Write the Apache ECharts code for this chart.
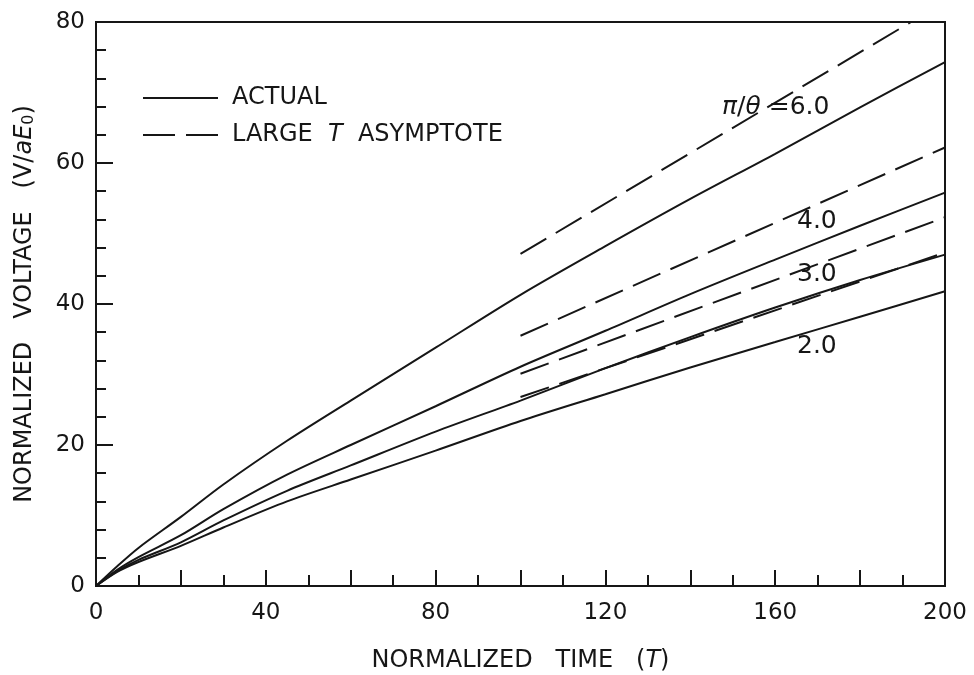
<!DOCTYPE html>
<html>
<head>
<meta charset="utf-8">
<script src="https://cdn.jsdelivr.net/npm/echarts@6/dist/echarts.min.js"></script>
<style>
html,body{margin:0;padding:0;background:#fff;}
#chart{width:974px;height:675px;}
</style>
</head>
<body>
<div id="chart"></div>
<script>
// Normalized time values
var timeValues = [0, 5, 10, 20, 30, 45, 60, 80, 100, 120, 140, 160, 180, 200];
// Actual curves (normalized voltage)
var actual60 = [0, 2.8, 5.4, 9.8, 14.4, 20.6, 26.3, 33.8, 41.3, 48.2, 54.9, 61.3, 67.9, 74.3];
var actual40 = [0, 2.3, 4.1, 7.2, 10.9, 15.8, 20.0, 25.5, 31.1, 36.2, 41.4, 46.3, 51.1, 55.8];
var actual30 = [0, 2.1, 3.7, 6.2, 9.3, 13.5, 17.1, 21.9, 26.3, 30.9, 35.3, 39.5, 43.4, 47.0];
var actual20 = [0, 2.0, 3.4, 5.7, 8.3, 12.0, 15.1, 19.2, 23.4, 27.2, 31.0, 34.6, 38.2, 41.8];
// Large-T asymptotes: [time, voltage] pairs
var asym60 = [[100, 47.1], [192, 80]];
var asym40 = [[100, 35.5], [200, 62.2]];
var asym30 = [[100, 30.1], [200, 52.3]];
var asym20 = [[100, 26.8], [200, 47.3]];
// Curve labels
var curveLabels = ['{i|\u03c0}/{i|\u03b8} =6.0', '4.0', '3.0', '2.0'];
var xTickLabels = [0, 40, 80, 120, 160, 200];

var FONT = 'DejaVu Sans';
var INK = '#161616';

function pairs(ys) { return timeValues.map(function (t, i) { return [t, ys[i]]; }); }

function solid(ys) {
  return {
    name: 'ACTUAL', type: 'line', data: pairs(ys), showSymbol: false, symbol: 'none',
    smooth: 0.3, lineStyle: { color: INK, width: 2, type: 'solid' }, itemStyle: { color: INK },
    silent: true, clip: true, z: 3
  };
}
function dashed(d) {
  return {
    name: 'LARGE T ASYMPTOTE', type: 'line', data: d, showSymbol: false, symbol: 'none',
    lineStyle: { color: INK, width: 2, type: [30, 11] }, itemStyle: { color: INK },
    silent: true, clip: true, z: 2
  };
}

var chart = echarts.init(document.getElementById('chart'), null, { renderer: 'canvas' });

var option = {
  backgroundColor: '#ffffff',
  animation: false,
  grid: {
    left: 96, right: 29, top: 22, bottom: 89,
    containLabel: false, outerBoundsMode: 'none',
    show: true, borderColor: INK, borderWidth: 2, backgroundColor: 'transparent'
  },
  legend: {
    orient: 'vertical', left: 143, top: 86, padding: 0,
    itemWidth: 75, itemHeight: 2, itemGap: 13,
    itemStyle: { color: INK, borderWidth: 0 },
    lineStyle: { width: 0 },
    data: [
      { name: 'ACTUAL', icon: 'path://M0,0h75v2h-75z' },
      { name: 'LARGE T ASYMPTOTE', icon: 'path://M0,0h32v2h-32zM43,0h32v2h-32z' }
    ],
    textStyle: {
      fontFamily: FONT, fontSize: 24, color: INK, padding: [0, 0, 0, 9],
      rich: { i: { fontFamily: FONT, fontSize: 24, fontStyle: 'italic', color: INK } }
    },
    formatter: function (n) { return n === 'LARGE T ASYMPTOTE' ? 'LARGE  {i|T}  ASYMPTOTE' : n; }
  },
  xAxis: {
    type: 'value', min: 0, max: 200, interval: 20,
    name: 'NORMALIZED   TIME   ({i|T})', nameLocation: 'middle', nameGap: 63,
    nameTextStyle: {
      fontFamily: FONT, fontSize: 24, color: INK,
      rich: { i: { fontFamily: FONT, fontSize: 24, fontStyle: 'italic', color: INK } }
    },
    axisLine: { show: true, lineStyle: { color: INK, width: 2 } },
    axisTick: { show: true, inside: true, length: 16, lineStyle: { color: INK, width: 2 } },
    minorTick: { show: true, splitNumber: 2, length: 11, lineStyle: { color: INK, width: 2 } },
    splitLine: { show: false },
    axisLabel: {
      fontFamily: FONT, fontSize: 23, color: INK, margin: 16,
      formatter: function (v) { return xTickLabels.indexOf(v) >= 0 ? String(v) : ''; }
    }
  },
  yAxis: {
    type: 'value', min: 0, max: 80, interval: 20,
    name: 'NORMALIZED   VOLTAGE   (V/{i|aE}{s|0})', nameLocation: 'middle', nameGap: 59,
    nameTextStyle: {
      fontFamily: FONT, fontSize: 24, color: INK,
      rich: {
        i: { fontFamily: FONT, fontSize: 24, fontStyle: 'italic', color: INK },
        s: { fontFamily: FONT, fontSize: 16, color: INK, verticalAlign: 'bottom', padding: [9, 0, 0, 0] }
      }
    },
    axisLine: { show: true, lineStyle: { color: INK, width: 2 } },
    axisTick: { show: true, inside: true, length: 17, lineStyle: { color: INK, width: 2 } },
    minorTick: { show: true, splitNumber: 5, length: 10, lineStyle: { color: INK, width: 2 } },
    splitLine: { show: false },
    axisLabel: { fontFamily: FONT, fontSize: 23, color: INK, margin: 11 }
  },
  graphic: [
    { type: 'text', left: 722, top: 95, style: { text: curveLabels[0], font: '25px "DejaVu Sans"', fill: INK,
      rich: { i: { fontFamily: FONT, fontSize: 25, fontStyle: 'italic', fill: INK } } } },
    { type: 'text', left: 797, top: 209, style: { text: curveLabels[1], font: '25px "DejaVu Sans"', fill: INK } },
    { type: 'text', left: 797, top: 262, style: { text: curveLabels[2], font: '25px "DejaVu Sans"', fill: INK } },
    { type: 'text', left: 797, top: 334, style: { text: curveLabels[3], font: '25px "DejaVu Sans"', fill: INK } }
  ],
  series: [
    solid(actual60), solid(actual40), solid(actual30), solid(actual20),
    dashed(asym60), dashed(asym40), dashed(asym30), dashed(asym20)
  ]
};
chart.setOption(option);
</script>
</body>
</html>
